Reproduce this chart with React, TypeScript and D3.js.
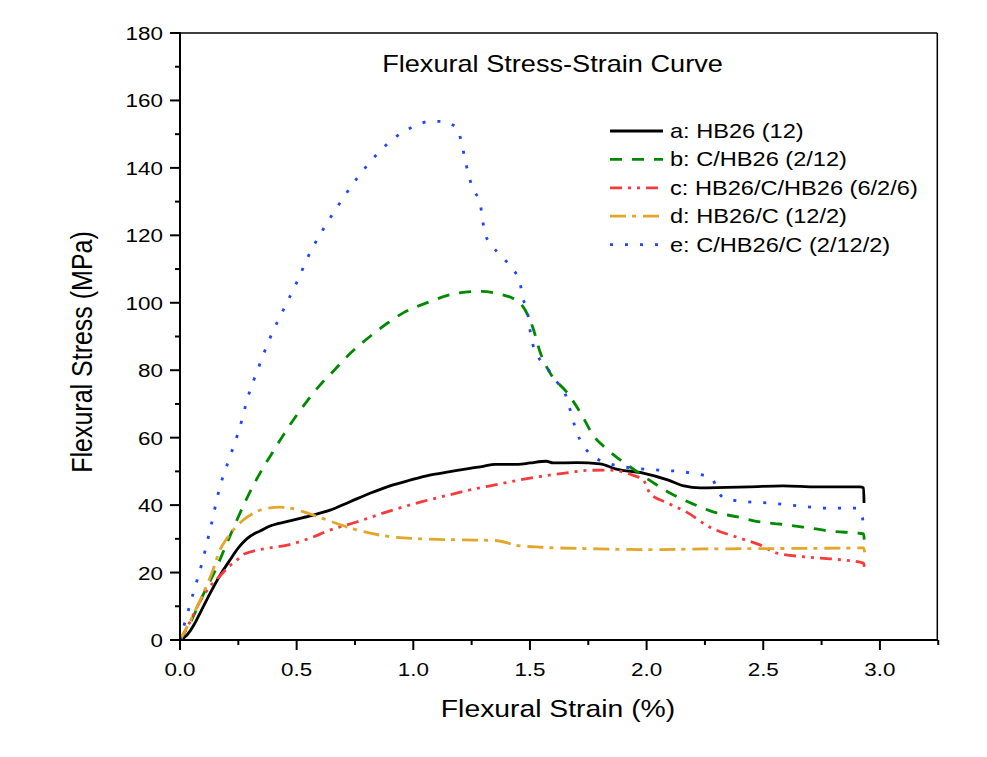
import React from "react";
import * as d3 from "d3";

const W = 987;
const H = 757;

// x = flexural strain (%), y = flexural stress (MPa)
const seriesA: [number, number][] = [
  [0, 0], [0.03, 1.5], [0.06, 4.5], [0.086, 8], [0.13, 14], [0.17, 19], [0.214, 23.7], [0.25, 27.3],
  [0.286, 30], [0.32, 31.6], [0.343, 32.3], [0.386, 33.8], [0.457, 35.1], [0.557, 36.8], [0.643, 38.5],
  [0.729, 41], [0.814, 43.5], [0.9, 45.7], [0.986, 47.4], [1.07, 48.9], [1.157, 49.9], [1.243, 50.9],
  [1.3, 51.5], [1.35, 52.1], [1.45, 52.1], [1.5, 52.5], [1.57, 53], [1.6, 52.5], [1.7, 52.6],
  [1.8, 52.2], [1.87, 50.7], [1.985, 49.5], [2.09, 47.5], [2.16, 45.7], [2.23, 45.1], [2.44, 45.4],
  [2.585, 45.7], [2.73, 45.4], [2.915, 45.4], [2.93, 45.1], [2.932, 40.6],
];
const seriesB: [number, number][] = [
  [0, 0], [0.05, 6], [0.1, 13.5], [0.15, 20.5], [0.2, 28.5], [0.244, 35.6], [0.29, 42.5], [0.343, 49.5],
  [0.4, 56], [0.457, 62.3], [0.53, 69.5], [0.6, 75.6], [0.65, 79.2], [0.73, 85], [0.814, 90], [0.89, 94],
  [0.957, 97], [1.07, 100.3], [1.17, 102.6], [1.286, 103.4], [1.37, 102.6], [1.43, 101.2], [1.457, 100],
  [1.49, 96.5], [1.513, 92.5], [1.543, 85.5], [1.586, 79.2], [1.66, 73.3], [1.72, 67], [1.77, 60.8],
  [1.835, 56.3], [1.93, 51.3], [2.01, 47.5], [2.1, 43.6], [2.2, 40.3], [2.285, 38], [2.39, 36.5],
  [2.486, 35], [2.57, 34.4], [2.67, 33.5], [2.786, 32.3], [2.9, 31.7], [2.93, 31.5], [2.935, 27],
];
const seriesC: [number, number][] = [
  [0, 0], [0.04, 5], [0.086, 11.5], [0.13, 16], [0.171, 19], [0.21, 21.8], [0.244, 23.7], [0.27, 25.3],
  [0.3, 26.1], [0.386, 27.3], [0.47, 28.3], [0.557, 30.2], [0.643, 32.6], [0.757, 35], [0.887, 38],
  [1.03, 40.9], [1.14, 42.8], [1.243, 44.5], [1.35, 46], [1.5, 48], [1.65, 49.5], [1.75, 50.3],
  [1.83, 50.4], [1.9, 49.8], [1.94, 48.9], [1.985, 47.5], [2.014, 43.6], [2.09, 40.6], [2.17, 38],
  [2.27, 33.5], [2.4, 30.2], [2.486, 28.2], [2.557, 25.8], [2.69, 24.6], [2.8, 24], [2.93, 22.8],
  [2.935, 19.9],
];
const seriesD: [number, number][] = [
  [0, 0], [0.05, 6.5], [0.1, 13.9], [0.14, 20.5], [0.171, 26.7], [0.2, 30], [0.228, 32.6], [0.27, 35.5],
  [0.314, 37.6], [0.37, 39], [0.43, 39.4], [0.48, 39], [0.53, 38], [0.58, 36.8], [0.63, 35.6],
  [0.73, 33.2], [0.857, 31.1], [1.03, 30], [1.21, 29.7], [1.35, 29.5], [1.45, 28], [1.55, 27.5],
  [1.75, 27.1], [2.0, 26.8], [2.25, 27], [2.5, 27.1], [2.75, 27.2], [2.93, 27.3], [2.935, 26],
];
const seriesE: [number, number][] = [
  [0, 0], [0.02, 5], [0.057, 13.9], [0.094, 22.8], [0.13, 33], [0.171, 45.4], [0.214, 54.3],
  [0.257, 63.2], [0.291, 72], [0.336, 80.7], [0.386, 89.6], [0.443, 97.9], [0.5, 106], [0.557, 114.8],
  [0.62, 122.5], [0.694, 130.5], [0.763, 137.3], [0.849, 144.4], [0.95, 150.4], [1.01, 152.5],
  [1.07, 153.8], [1.13, 153.8], [1.16, 153], [1.189, 151.7], [1.207, 147.3], [1.221, 142.8],
  [1.236, 138.2], [1.254, 134], [1.286, 129.5], [1.307, 120.6], [1.336, 117.1], [1.38, 113.6],
  [1.423, 110.3], [1.457, 105.9], [1.47, 101.4], [1.49, 97], [1.5, 92], [1.513, 87.5], [1.535, 84],
  [1.573, 80.7], [1.616, 76.5], [1.65, 73.2], [1.67, 68.8], [1.7, 61.7], [1.73, 57.5], [1.77, 54.5],
  [1.83, 52.5], [1.88, 51.6], [1.94, 51], [2.05, 50.4], [2.164, 49.8], [2.28, 48], [2.3, 45],
  [2.33, 42.1], [2.4, 41.2], [2.53, 40.6], [2.66, 39.7], [2.77, 39.1], [2.9, 39.1], [2.925, 36.2],
  [2.93, 33.5],
];

const seriesNames = [
  "a: HB26 (12)",
  "b: C/HB26 (2/12)",
  "c: HB26/C/HB26 (6/2/6)",
  "d: HB26/C (12/2)",
  "e: C/HB26/C (2/12/2)",
];
const seriesData = [seriesA, seriesB, seriesC, seriesD, seriesE];
const seriesColors = ["#000000", "#008a00", "#f53b3b", "#e3a626", "#1f45ff"];
const seriesDash = ["none", "12 10", "12 6 3 6 3 6", "16 6 4 7", "3 12"];

const xTicks = [0, 0.5, 1.0, 1.5, 2.0, 2.5, 3.0];
const xMinor = [0.25, 0.75, 1.25, 1.75, 2.25, 2.75, 3.25];
const yTicks = [0, 20, 40, 60, 80, 100, 120, 140, 160, 180];
const yMinor = [10, 30, 50, 70, 90, 110, 130, 150, 170];

const titleText = "Flexural Stress-Strain Curve";
const xLabel = "Flexural Strain (%)";
const yLabel = "Flexural Stress (MPa)";

const FONT = "'Liberation Sans', Arial, sans-serif";
const SX = 1.18;

function T({ x, y, size, anchor = "start", children }: any) {
  return (
    <text
      transform={`translate(${x},${y}) scale(${SX},1)`}
      fontSize={size}
      fontFamily={FONT}
      textAnchor={anchor}
      fill="#000"
    >
      {children}
    </text>
  );
}

export default function App() {
  const left = 180, right = 937.3, top = 33, bottom = 640;
  const x = d3.scaleLinear().domain([0, 3.246]).range([left, right]);
  const y = d3.scaleLinear().domain([0, 180]).range([bottom, top]);
  const line = d3
    .line<[number, number]>()
    .x((d) => x(d[0]))
    .y((d) => y(d[1]))
    .curve(d3.curveMonotoneX);

  const legendY0 = 131;
  const legendStep = 28.4;

  return (
    <svg width={W} height={H} style={{ position: "absolute", left: 0, top: 0, background: "#fff" }}>
      <rect x={0} y={0} width={W} height={H} fill="#fff" />
      {/* curves */}
      {seriesData.map((s, i) => (
        <path
          key={i}
          d={line(s) || ""}
          fill="none"
          stroke={seriesColors[i]}
          strokeWidth={2.8}
          strokeDasharray={seriesDash[i]}
          strokeLinejoin="round"
        />
      ))}
      {/* frame */}
      <line x1={left} x2={right} y1={top} y2={top} stroke="#000" strokeWidth={1.5} />
      <line x1={right} x2={right} y1={top} y2={bottom} stroke="#000" strokeWidth={1.5} />
      <line x1={left} x2={left} y1={top - 0.75} y2={bottom + 1} stroke="#000" strokeWidth={2} />
      <line x1={left - 1} x2={right + 0.75} y1={bottom} y2={bottom} stroke="#000" strokeWidth={2} />
      {/* y ticks */}
      {yTicks.map((t) => (
        <g key={"y" + t}>
          <line x1={left - 10} x2={left} y1={y(t)} y2={y(t)} stroke="#000" strokeWidth={2} />
          <T x={left - 17} y={y(t) + 7} size={19} anchor="end">{String(t)}</T>
        </g>
      ))}
      {yMinor.map((t) => (
        <line key={"ym" + t} x1={left - 5} x2={left} y1={y(t)} y2={y(t)} stroke="#000" strokeWidth={2} />
      ))}
      {/* x ticks */}
      {xTicks.map((t) => (
        <g key={"x" + t}>
          <line x1={x(t)} x2={x(t)} y1={bottom} y2={bottom + 10} stroke="#000" strokeWidth={2} />
          <T x={x(t)} y={676} size={19} anchor="middle">{t.toFixed(1)}</T>
        </g>
      ))}
      {xMinor.map((t) => (
        <line key={"xm" + t} x1={x(t)} x2={x(t)} y1={bottom} y2={bottom + 5} stroke="#000" strokeWidth={2} />
      ))}
      {/* title */}
      <T x={552.5} y={71.5} size={23} anchor="middle">{titleText}</T>
      {/* axis labels */}
      <T x={558} y={717} size={24} anchor="middle">{xLabel}</T>
      <text
        transform={`translate(91.5,352) scale(${SX},1) rotate(-90)`}
        fontSize={25}
        fontFamily={FONT}
        textAnchor="middle"
        fill="#000"
      >
        {yLabel}
      </text>
      {/* legend */}
      {seriesNames.map((n, i) => {
        const ly = legendY0 + i * legendStep;
        return (
          <g key={"lg" + i}>
            <line
              x1={610}
              x2={663}
              y1={ly}
              y2={ly}
              stroke={seriesColors[i]}
              strokeWidth={2.8}
              strokeDasharray={seriesDash[i]}
            />
            <T x={670} y={ly + 7} size={20}>{n}</T>
          </g>
        );
      })}
    </svg>
  );
}
